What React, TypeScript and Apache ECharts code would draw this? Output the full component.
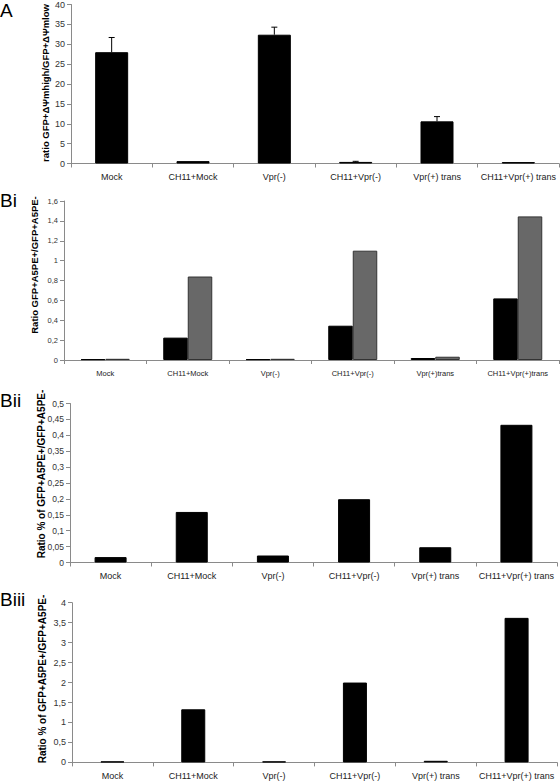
import React, { useEffect, useRef } from "react";
import * as echarts from "echarts";

const categoriesSpaced = ["Mock", "CH11+Mock", "Vpr(-)", "CH11+Vpr(-)", "Vpr(+) trans", "CH11+Vpr(+) trans"];
const categoriesBi = ["Mock", "CH11+Mock", "Vpr(-)", "CH11+Vpr(-)", "Vpr(+)trans", "CH11+Vpr(+)trans"];

const valuesA = [28, 0.6, 32.4, 0.4, 10.6, 0.35];
const errorsA = [3.7, 0, 1.9, 0.15, 1.2, 0];

const valuesBiBlack = [0.008, 0.225, 0.008, 0.345, 0.02, 0.62];
const valuesBiGray = [0.012, 0.84, 0.012, 1.1, 0.033, 1.445];

const valuesBii = [0.017, 0.159, 0.022, 0.199, 0.048, 0.433];
const valuesBiii = [0.025, 1.33, 0.025, 2.0, 0.04, 3.62];

const panelLetters = ["A", "Bi", "Bii", "Biii"];
const axisNames = [
  "ratio GFP+ΔΨmhigh/GFP+ΔΨmlow",
  "Ratio GFP+A5PE+/GFP+A5PE-",
  "Ratio % of GFP+A5PE+/GFP+A5PE-",
  "Ratio % of GFP+A5PE+/GFP+A5PE-",
];
const yMax = [40, 1.6, 0.5, 4];
const yInterval = [5, 0.2, 0.05, 0.5];

const FONT = "'Liberation Sans', Arial, sans-serif";

const fmt = (v: number) => String(parseFloat(v.toFixed(2))).replace(".", ",");

export default function App() {
  const ref = useRef<HTMLDivElement>(null);
  useEffect(() => {
    if (!ref.current) return;
    const chart = echarts.init(ref.current, undefined, { renderer: "svg" });

    const grids = [
      { left: 71, width: 488, top: 4, height: 159.5 },
      { left: 64, width: 495, top: 201, height: 159 },
      { left: 70, width: 487, top: 403.5, height: 159 },
      { left: 72, width: 485, top: 602.7, height: 159.7 },
    ];
    const xFont = [9, 7.5, 9, 9];
    const yFont = [9, 7.5, 8.5, 9];
    const cats = [categoriesSpaced, categoriesBi, categoriesSpaced, categoriesSpaced];

    const xAxis = grids.map((_, i) => ({
      type: "category",
      gridIndex: i,
      data: cats[i],
      axisLine: { lineStyle: { color: "#8a8a8a", width: 1 } },
      axisTick: { show: true, length: 4, lineStyle: { color: "#8a8a8a" } },
      axisLabel: { color: "#222", fontSize: xFont[i], fontFamily: FONT, margin: 9, interval: 0 },
    }));
    const yAxis = grids.map((_, i) => ({
      type: "value",
      gridIndex: i,
      min: 0,
      max: yMax[i],
      interval: yInterval[i],
      splitLine: { show: false },
      axisLine: { show: true, lineStyle: { color: "#8a8a8a", width: 1 } },
      axisTick: { show: true, length: 4, lineStyle: { color: "#8a8a8a" } },
      axisLabel: { color: "#333", fontSize: yFont[i], fontFamily: FONT, margin: 6, formatter: fmt },
    }));

    const errRender = (params: any, api: any) => {
      const x = api.value(0);
      const v = api.value(1);
      const e = api.value(2);
      if (!e) return null;
      const p0 = api.coord([x, v]);
      const p1 = api.coord([x, v + e]);
      const st = { stroke: "#000", lineWidth: 1 };
      return {
        type: "group",
        children: [
          { type: "line", shape: { x1: p0[0], y1: p0[1], x2: p1[0], y2: p1[1] }, style: st },
          { type: "line", shape: { x1: p1[0] - 3, y1: p1[1], x2: p1[0] + 3, y2: p1[1] }, style: st },
        ],
      };
    };

    const blackItem = { color: "#000", borderColor: "#000", borderWidth: 1 };
    const series: any[] = [
      { type: "bar", xAxisIndex: 0, yAxisIndex: 0, data: valuesA, barWidth: 33, itemStyle: blackItem },
      {
        type: "custom",
        xAxisIndex: 0,
        yAxisIndex: 0,
        renderItem: errRender,
        encode: { x: 0, y: 1 },
        data: valuesA.map((v, i) => [i, v, errorsA[i]]),
        z: 5,
      },
      { type: "bar", xAxisIndex: 1, yAxisIndex: 1, data: valuesBiBlack, barWidth: 24.5, barGap: "0%", itemStyle: blackItem },
      {
        type: "bar",
        xAxisIndex: 1,
        yAxisIndex: 1,
        data: valuesBiGray,
        barWidth: 24.5,
        barGap: "0%",
        itemStyle: { color: "#686868", borderColor: "#333", borderWidth: 1 },
      },
      { type: "bar", xAxisIndex: 2, yAxisIndex: 2, data: valuesBii, barWidth: 32, itemStyle: blackItem },
      { type: "bar", xAxisIndex: 3, yAxisIndex: 3, data: valuesBiii, barWidth: 24, itemStyle: blackItem },
    ];

    const letterTops = [1, 191, 391, 590];
    const nameX = [45.7, 34, 41, 42];
    const nameY = [83, 265, 474, 679];
    const nameSize = [9.5, 9.5, 10, 10];
    const graphic: any[] = [];
    panelLetters.forEach((t, i) => {
      graphic.push({
        type: "text",
        x: 0,
        y: letterTops[i],
        style: { text: t, fontSize: 19, fontFamily: FONT, fill: "#000", textVerticalAlign: "top" },
      });
      graphic.push({
        type: "text",
        x: nameX[i],
        y: nameY[i],
        rotation: Math.PI / 2,
        style: {
          text: axisNames[i],
          fontSize: nameSize[i],
          fontWeight: "bold",
          fontFamily: FONT,
          fill: "#000",
          textAlign: "center",
          textVerticalAlign: "middle",
        },
      });
    });

    chart.setOption({
      animation: false,
      backgroundColor: "#fff",
      grid: grids,
      xAxis,
      yAxis,
      series,
      graphic,
    });
    return () => chart.dispose();
  }, []);
  return (
    <div
      ref={ref}
      style={{ position: "absolute", left: 0, top: 0, width: 560, height: 781 }}
    />
  );
}
